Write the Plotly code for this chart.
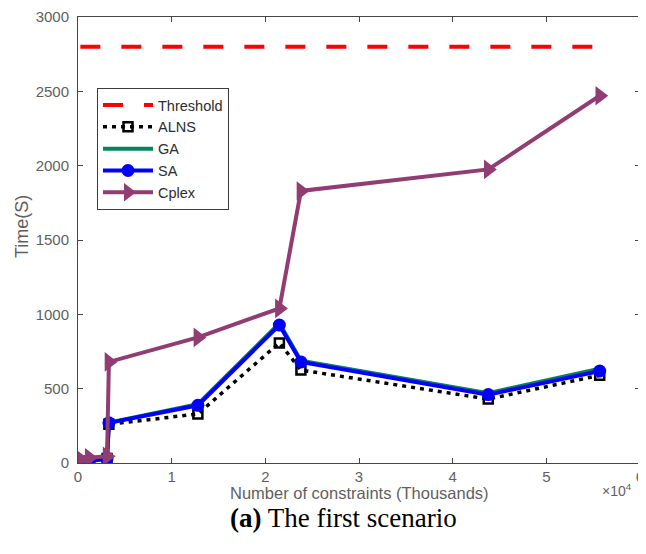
import plotly.graph_objects as go

# data (x in number of constraints)
x_vals = [250, 1200, 3100, 3300, 12800, 21500, 23800, 43800, 55700]
threshold = [2800] * len(x_vals)
alns = [10, 12, 30, 260, 330, 808, 625, 430, 590]
ga = [12, 14, 32, 272, 395, 940, 688, 470, 635]
sa = [10, 12, 30, 270, 388, 928, 680, 460, 619]
cplex = [25, 35, 45, 680, 845, 1040, 1830, 1975, 2470]

x_ticks = [0, 10000, 20000, 30000, 40000, 50000, 60000]
x_tick_text = ["0", "1", "2", "3", "4", "5", "6"]
y_ticks = [0, 500, 1000, 1500, 2000, 2500, 3000]

FONT = "Liberation Sans, Arial, sans-serif"
AX = "rgb(70,70,70)"
TXT = "rgb(95,95,95)"
OFF = 8  # page body margin
W, H = 646 - OFF, 554 - OFF
L, R, T, B = 78 - OFF, 640 - OFF, 17 - OFF, 463 - OFF
PW, PH = R - L, B - T


def px_x(p):
    return (p - OFF - L) / PW


def px_y(p):
    return 1 - (p - OFF - T) / PH


fig = go.Figure()
fig.add_trace(go.Scatter(x=x_vals, y=threshold, name="Threshold", mode="lines",
                         line=dict(color="rgb(255,0,0)", width=4, dash="20px,21px")))
fig.add_trace(go.Scatter(x=x_vals, y=alns, name="ALNS", mode="lines+markers",
                         line=dict(color="black", width=3.5, dash="4px,5px"),
                         marker=dict(symbol="square-open", size=9, color="black",
                                     line=dict(width=2.5, color="black"))))
fig.add_trace(go.Scatter(x=x_vals, y=ga, name="GA", mode="lines",
                         line=dict(color="rgb(0,135,90)", width=4)))
fig.add_trace(go.Scatter(x=x_vals, y=sa, name="SA", mode="lines+markers",
                         line=dict(color="rgb(0,0,255)", width=4),
                         marker=dict(symbol="circle", size=13, color="rgb(0,0,255)")))
fig.add_trace(go.Scatter(x=x_vals, y=cplex, name="Cplex", mode="lines+markers",
                         line=dict(color="rgb(145,60,115)", width=4),
                         marker=dict(symbol="triangle-right", size=17, color="rgb(145,60,115)")))

axis_common = dict(showgrid=False, zeroline=False, showline=True, linecolor=AX, linewidth=1,
                   mirror="ticks", ticks="inside", ticklen=5, tickcolor=AX, automargin=False,
                   tickfont=dict(family=FONT, size=15, color=TXT))

fig.update_layout(
    width=W, height=H,
    margin=dict(l=L, r=W - R, t=T, b=H - B, autoexpand=False),
    paper_bgcolor="white", plot_bgcolor="white",
    font=dict(family=FONT),
    xaxis=dict(range=[0, 60000], tickvals=x_ticks, ticktext=x_tick_text,
               ticklabelstandoff=0, **axis_common),
    yaxis=dict(range=[0, 3000], tickvals=y_ticks, ticklabelstandoff=5, **axis_common),
    legend=dict(x=px_x(97), y=px_y(88), xanchor="left", yanchor="top",
                bgcolor="white", bordercolor="rgb(60,60,60)", borderwidth=1,
                font=dict(family=FONT, size=14.5, color="rgb(45,45,45)"),
                tracegroupgap=0, itemwidth=50),
    showlegend=True,
    annotations=[
        dict(text="Time(S)", textangle=-90, x=px_x(22), y=px_y(227), xref="paper", yref="paper",
             showarrow=False, xanchor="center", yanchor="middle",
             font=dict(family=FONT, size=18, color=TXT)),
        dict(text="Number of constraints (Thousands)", x=px_x(359), y=px_y(493),
             xref="paper", yref="paper", showarrow=False, xanchor="center", yanchor="middle",
             borderpad=0, font=dict(family=FONT, size=16.5, color=TXT)),
        dict(text="×10<sup>4</sup>", x=px_x(633), y=px_y(490), xref="paper", yref="paper",
             showarrow=False, xanchor="right", yanchor="middle", borderpad=0,
             font=dict(family=FONT, size=14, color=TXT)),
        dict(text="<b>(a)</b> The first scenario", x=px_x(343), y=px_y(518),
             xref="paper", yref="paper", showarrow=False, xanchor="center", yanchor="middle",
             borderpad=0,
             font=dict(family="Liberation Serif, Times New Roman, serif", size=27, color="black")),
    ],
)

fig.write_html("out.html")
